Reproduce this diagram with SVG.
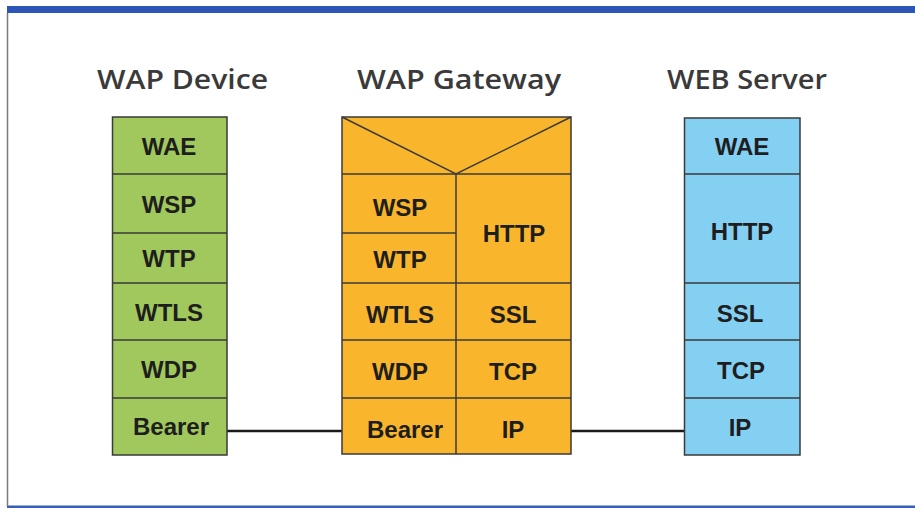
<svg xmlns="http://www.w3.org/2000/svg" width="915" height="508" viewBox="0 0 915 508">
<style>
.title{font-family:"Open Sans","Liberation Sans",sans-serif;font-weight:600;font-size:27px;fill:#3a3a3a;text-anchor:middle}
.lbl{font-family:"Liberation Sans",Arial,sans-serif;font-weight:bold;font-size:24px;fill:#1e1e1e;text-anchor:middle}
.cell{stroke:#3a3a3a;stroke-width:1.5}
.g{fill:#a1c85c}
.o{fill:#f9b62c}
.b{fill:#84d0f3}
.ln{stroke:#3a3a3a;stroke-width:1.5;fill:none}
.conn{stroke:#1a1a1a;stroke-width:2.5;fill:none}
</style>
<rect x="0" y="0" width="915" height="508" fill="#ffffff"/>
<rect x="7" y="6" width="908" height="7" fill="#2d55b5"/>
<rect x="7" y="505.5" width="908" height="2.5" fill="#3a5fb0"/>
<line x1="7.5" y1="13" x2="7.5" y2="506" stroke="#7a7a7a" stroke-width="1.5"/>

<text class="title" x="182.5" y="89" textLength="171" lengthAdjust="spacingAndGlyphs">WAP Device</text>
<text class="title" x="459" y="89" textLength="204" lengthAdjust="spacingAndGlyphs">WAP Gateway</text>
<text class="title" x="747" y="89" textLength="160" lengthAdjust="spacingAndGlyphs">WEB Server</text>

<g id="connectors">
<line class="conn" x1="227" y1="431" x2="342" y2="431"/>
<line class="conn" x1="571" y1="431" x2="684" y2="431"/>
</g>

<g id="wap-device">
<rect class="cell g" x="112.5" y="117" width="114.5" height="338"/>
<line class="ln" x1="112.5" y1="174" x2="227" y2="174"/>
<line class="ln" x1="112.5" y1="233" x2="227" y2="233"/>
<line class="ln" x1="112.5" y1="283" x2="227" y2="283"/>
<line class="ln" x1="112.5" y1="340" x2="227" y2="340"/>
<line class="ln" x1="112.5" y1="398" x2="227" y2="398"/>
<text class="lbl" x="169" y="155">WAE</text>
<text class="lbl" x="169" y="213">WSP</text>
<text class="lbl" x="169" y="267">WTP</text>
<text class="lbl" x="169" y="321">WTLS</text>
<text class="lbl" x="169" y="378">WDP</text>
<text class="lbl" x="171" y="435">Bearer</text>
</g>

<g id="wap-gateway">
<rect class="cell o" x="342" y="117" width="229" height="337"/>
<polyline class="ln" points="342,117 456,174 571,117"/>
<line class="ln" x1="342" y1="174" x2="571" y2="174"/>
<line class="ln" x1="456" y1="174" x2="456" y2="454"/>
<line class="ln" x1="342" y1="233" x2="456" y2="233"/>
<line class="ln" x1="342" y1="283" x2="571" y2="283"/>
<line class="ln" x1="342" y1="340" x2="571" y2="340"/>
<line class="ln" x1="342" y1="398" x2="571" y2="398"/>
<text class="lbl" x="400" y="216">WSP</text>
<text class="lbl" x="400" y="268">WTP</text>
<text class="lbl" x="400" y="323">WTLS</text>
<text class="lbl" x="400" y="380">WDP</text>
<text class="lbl" x="405" y="438">Bearer</text>
<text class="lbl" x="514" y="242">HTTP</text>
<text class="lbl" x="513" y="323">SSL</text>
<text class="lbl" x="513" y="380">TCP</text>
<text class="lbl" x="513" y="438">IP</text>
</g>

<g id="web-server">
<rect class="cell b" x="684.5" y="118" width="115.5" height="337"/>
<line class="ln" x1="684.5" y1="174" x2="800" y2="174"/>
<line class="ln" x1="684.5" y1="283" x2="800" y2="283"/>
<line class="ln" x1="684.5" y1="340" x2="800" y2="340"/>
<line class="ln" x1="684.5" y1="398" x2="800" y2="398"/>
<text class="lbl" x="742" y="155">WAE</text>
<text class="lbl" x="742" y="240">HTTP</text>
<text class="lbl" x="740" y="322">SSL</text>
<text class="lbl" x="741" y="379">TCP</text>
<text class="lbl" x="740" y="436">IP</text>
</g>
</svg>
